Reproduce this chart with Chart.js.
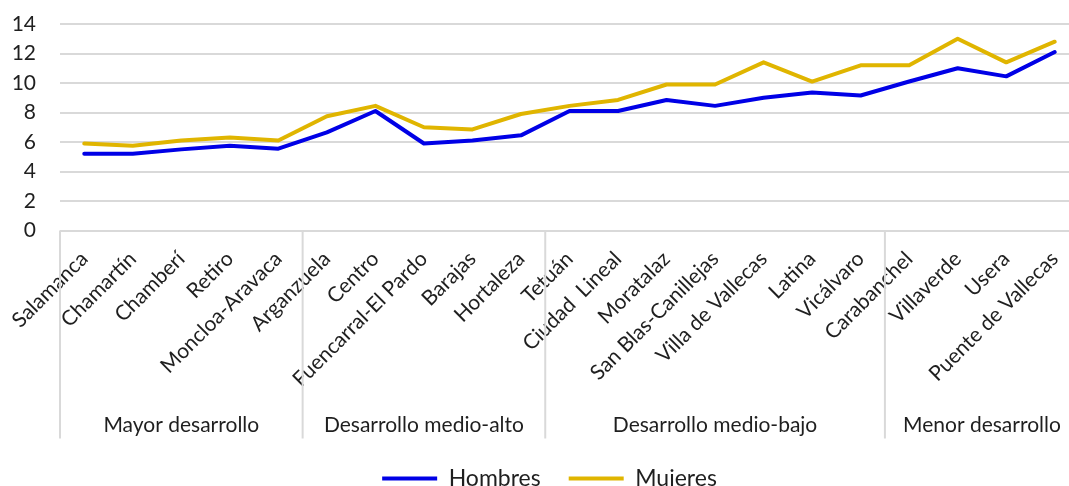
<!DOCTYPE html>
<html>
<head>
<meta charset="utf-8">
<script src="https://cdn.jsdelivr.net/npm/chart.js@4.4.1/dist/chart.umd.min.js"></script>
<style>
  html, body { margin: 0; padding: 0; background: #ffffff; overflow: hidden; width: 1069px; height: 486px; }
  #wrap { position: absolute; left: 0; top: 0; width: 1090px; height: 500px; }
</style>
</head>
<body>
<div id="wrap"><canvas id="c" width="1090" height="500"></canvas></div>
<script>
const categories = ['Salamanca', 'Chamartín', 'Chamberí', 'Retiro', 'Moncloa-Aravaca',
  'Arganzuela', 'Centro', 'Fuencarral-El Pardo', 'Barajas', 'Hortaleza',
  'Tetuán', 'Ciudad  Lineal', 'Moratalaz', 'San Blas-Canillejas', 'Villa de Vallecas', 'Latina', 'Vicálvaro',
  'Carabanchel', 'Villaverde', 'Usera', 'Puente de Vallecas'];
const hombres = [5.2, 5.2, 5.5, 5.75, 5.55, 6.65, 8.1, 5.9, 6.1, 6.45, 8.1, 8.1, 8.85, 8.45, 9.0, 9.35, 9.15, 10.1, 11.0, 10.45, 12.1];
const mujeres = [5.9, 5.75, 6.1, 6.3, 6.1, 7.75, 8.45, 7.0, 6.85, 7.9, 8.45, 8.85, 9.9, 9.9, 11.4, 10.1, 11.2, 11.2, 13.0, 11.4, 12.8];
const groupLabels = ['Mayor desarrollo', 'Desarrollo medio-alto', 'Desarrollo medio-bajo', 'Menor desarrollo'];
const groupSizes = [5, 5, 7, 4];
const yTicks = [0, 2, 4, 6, 8, 10, 12, 14];

const FONT = 'Lato, "Open Sans", sans-serif';
const TEXT = '#1f1f1f';
const GRID = '#d9d9d9';

const groupPlugin = {
  id: 'groups',
  afterDraw(chart) {
    const x = chart.scales.x;
    const ctx = chart.ctx;
    const step = x.getPixelForValue(1) - x.getPixelForValue(0);
    const top = x.top;
    const sepBottom = top + 208;
    ctx.save();
    ctx.strokeStyle = GRID;
    ctx.lineWidth = 2;
    let idx = 0;
    const bounds = [x.getPixelForValue(0) - step / 2];
    groupSizes.forEach(n => { idx += n; bounds.push(x.getPixelForValue(idx - 1) + step / 2); });
    bounds.forEach(b => {
      ctx.beginPath();
      ctx.moveTo(b, top);
      ctx.lineTo(b, sepBottom);
      ctx.stroke();
    });
    ctx.fillStyle = TEXT;
    ctx.font = '21px ' + FONT;
    ctx.textAlign = 'center';
    ctx.textBaseline = 'alphabetic';
    groupLabels.forEach((g, i) => {
      const cx = (bounds[i] + bounds[i + 1]) / 2;
      ctx.fillText(g, cx, top + 201);
    });
    ctx.restore();
  }
};

new Chart(document.getElementById('c'), {
  type: 'line',
  data: {
    labels: categories,
    datasets: [
      { label: 'Hombres', data: hombres, borderColor: '#0000E6', backgroundColor: '#0000E6', borderWidth: 4,
        pointRadius: 0, tension: 0, borderJoinStyle: 'round', borderCapStyle: 'round' },
      { label: 'Mujeres', data: mujeres, borderColor: '#E0B500', backgroundColor: '#E0B500', borderWidth: 4,
        pointRadius: 0, tension: 0, borderJoinStyle: 'round', borderCapStyle: 'round' }
    ]
  },
  options: {
    responsive: false,
    animation: false,
    layout: { padding: { left: 20, right: 11, top: 24, bottom: 0 } },
    plugins: {
      tooltip: { enabled: false },
      legend: {
        position: 'bottom',
        labels: {
          usePointStyle: true,
          pointStyle: 'line',
          pointStyleWidth: 55,
          padding: 28,
          color: TEXT,
          font: { family: FONT, size: 23 }
        }
      }
    },
    scales: {
      x: {
        offset: true,
        grid: { display: false, drawTicks: false },
        border: { display: false },
        ticks: {
          autoSkip: false, maxRotation: 45, minRotation: 45, padding: 16,
          color: TEXT, font: { family: FONT, size: 21 }
        },
        afterFit(s) { s.height = 208.5; s.paddingLeft = 0; s.paddingRight = 0; }
      },
      y: {
        min: 0, max: 14,
        afterBuildTicks(s) { s.ticks = yTicks.map(v => ({ value: v })); },
        grid: { color: GRID, lineWidth: 2, drawTicks: false },
        border: { display: false },
        ticks: { autoSkip: false, padding: 24, color: TEXT, font: { family: FONT, size: 21 } },
        afterFit(s) {
          s.width = 40; s.paddingTop = 0; s.paddingBottom = 0;
          s._computeLabelArea = function () { return undefined; };
        }
      }
    }
  },
  plugins: [groupPlugin]
});
</script>
</body>
</html>
